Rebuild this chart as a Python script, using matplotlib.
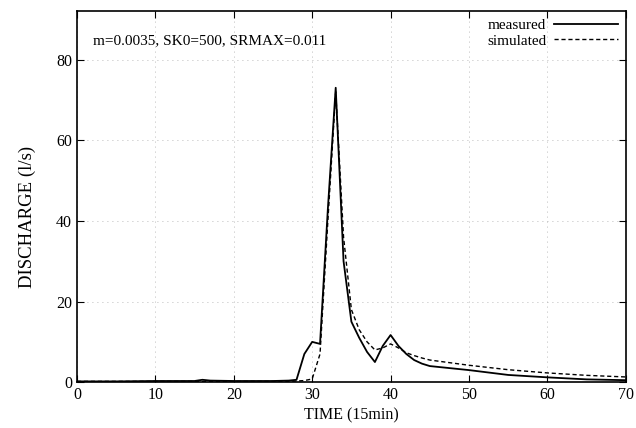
import matplotlib
matplotlib.use("Agg")
from matplotlib import pyplot as plt

plt.rcParams["font.family"] = ["Liberation Serif", "DejaVu Serif"]

# time steps (15 min)
time = [0, 5, 10, 15, 16, 17, 20, 25, 27, 28, 29, 30, 31, 32, 33, 34, 35,
        36, 37, 38, 39, 40, 41, 42, 43, 44, 45, 50, 55, 60, 65, 70]
measured = [0.2, 0.2, 0.3, 0.3, 0.6, 0.4, 0.3, 0.3, 0.4, 0.6, 7, 10, 9.5,
            43, 73, 30, 15, 11, 7.5, 5, 9, 11.7, 9, 7, 5.5, 4.6, 4.0,
            3.0, 1.8, 1.2, 0.7, 0.5]
simulated = [0.2, 0.2, 0.2, 0.2, 0.2, 0.2, 0.2, 0.2, 0.2, 0.3, 0.4, 0.8,
             7, 40, 72, 36, 18, 13, 10, 8, 8.5, 9.5, 8.5, 7.3, 6.6, 6.0,
             5.5, 4.2, 3.1, 2.3, 1.7, 1.3]

fig = plt.figure(figsize=(6.36, 4.28), dpi=100)
ax = fig.add_axes([0.121, 0.107, 0.863, 0.867])

ax.plot(time, measured, color="black", lw=1.3, label="measured")
ax.plot(time, simulated, color="black", lw=1.0, dashes=(3, 2), label="simulated")

ax.set_xlim(0, 70)
ax.set_ylim(0, 92)
ax.set_xticks(range(0, 71, 10))
ax.set_yticks(range(0, 81, 20))
ax.grid(True, color="0.65", linestyle=(0, (1, 5)), linewidth=0.6)
ax.tick_params(direction="in", top=True, right=True, labelsize=11.5, length=5)
for s in ax.spines.values():
    s.set_linewidth(1.2)

ax.set_xlabel("TIME (15min)", fontsize=11.5, labelpad=3)
ax.set_ylabel("DISCHARGE (l/s)", fontsize=13.5)
ax.yaxis.set_label_coords(-0.075, 0.445)

ax.text(0.03, 0.92, "m=0.0035, SK0=500, SRMAX=0.011", transform=ax.transAxes,
        fontsize=11, va="center", ha="left")

leg = ax.legend(loc="upper right", frameon=False, markerfirst=False,
                fontsize=11, handlelength=4.2, handletextpad=0.5,
                labelspacing=0.1, borderaxespad=0.1)

fig.savefig("out.png", dpi=100)
